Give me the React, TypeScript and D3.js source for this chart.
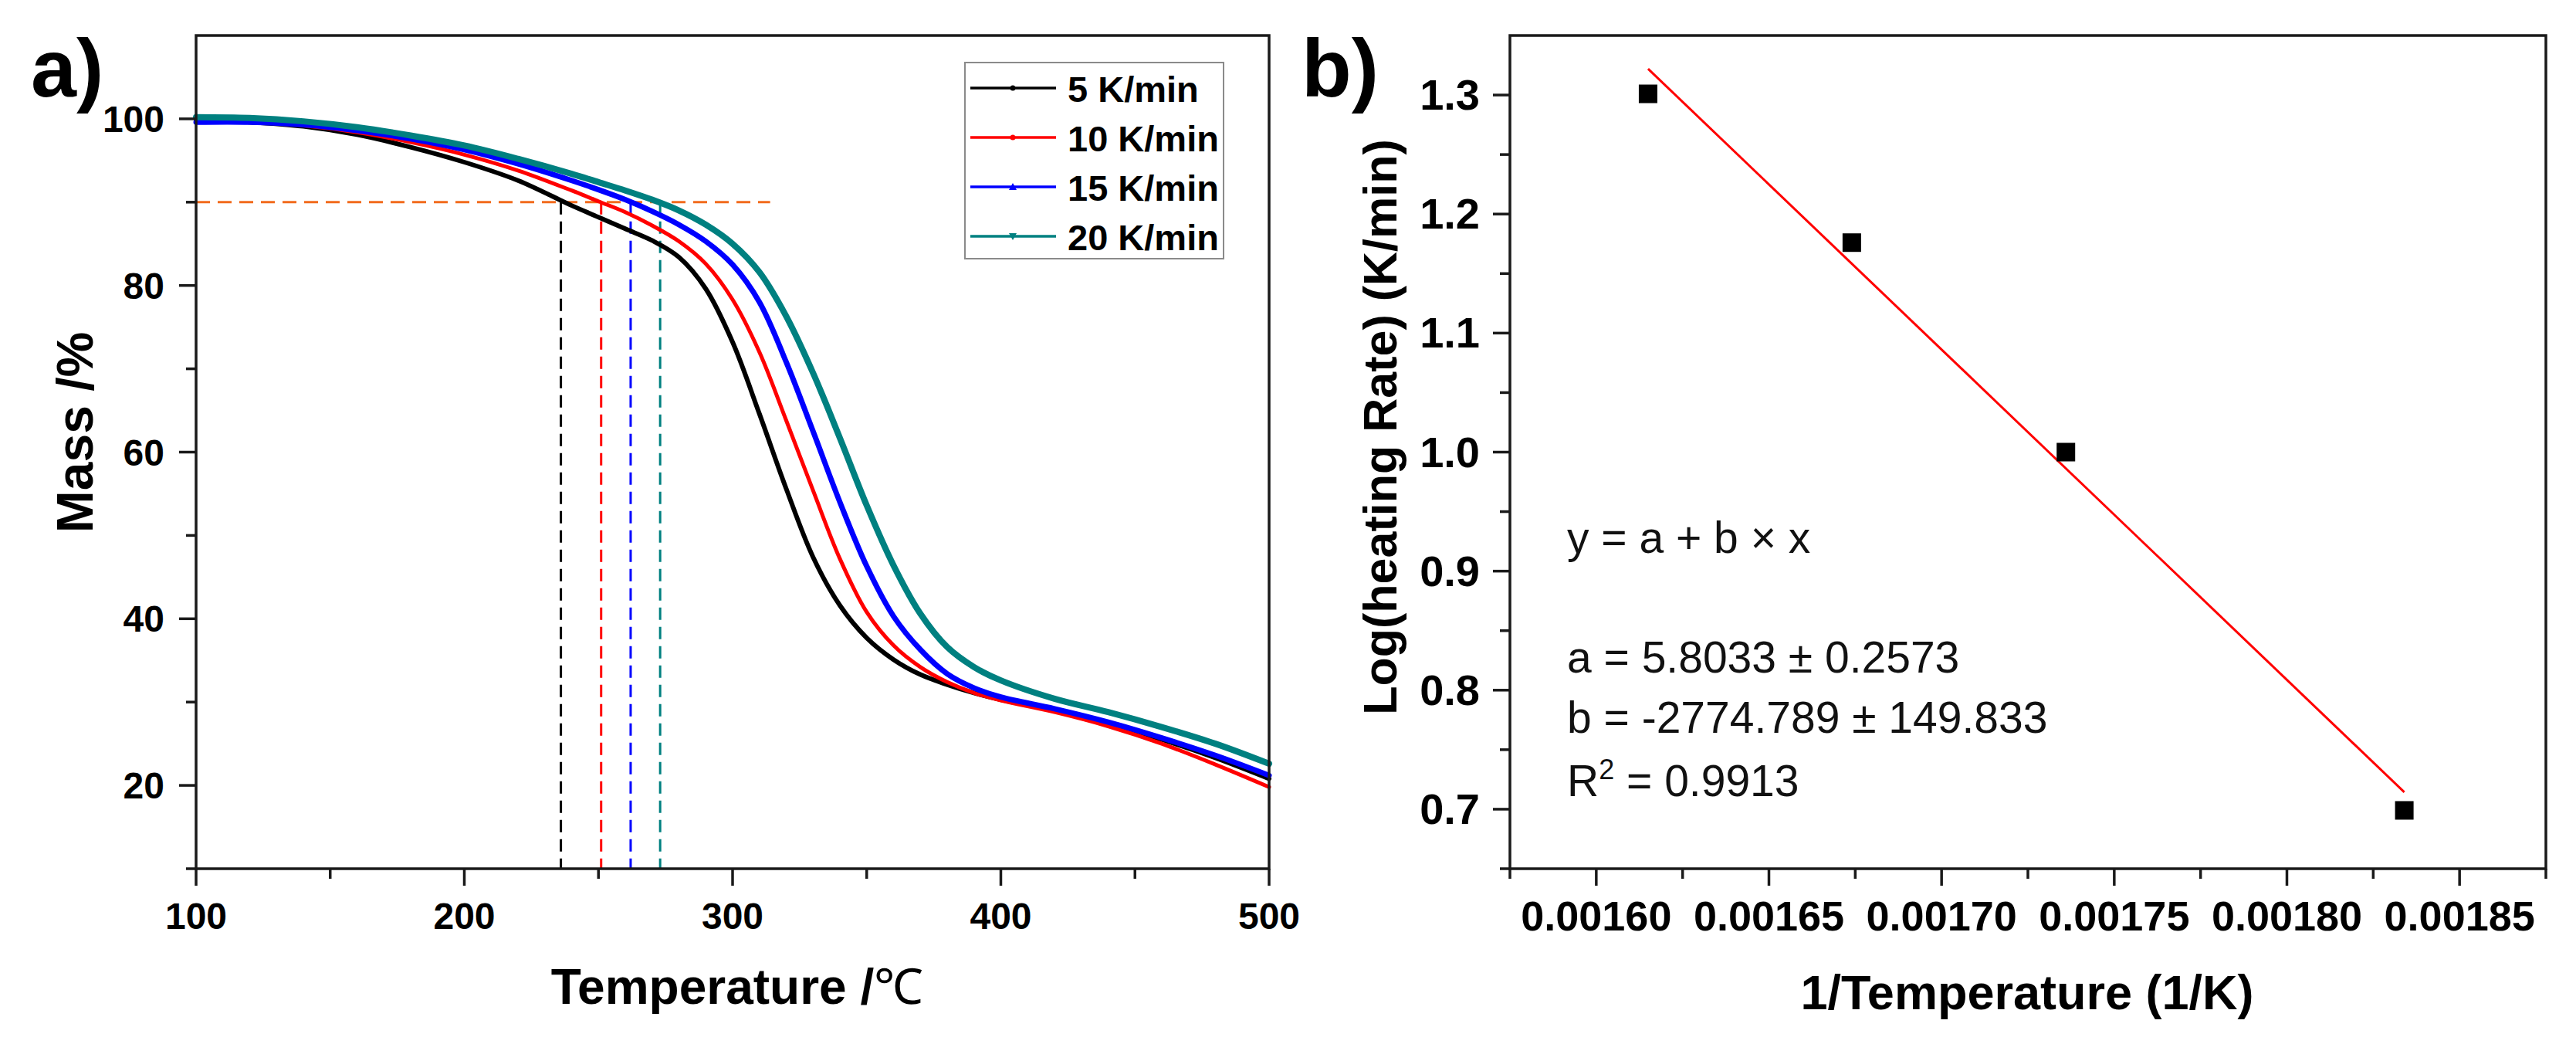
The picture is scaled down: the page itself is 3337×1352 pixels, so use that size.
import React, { useEffect } from "react";
import * as d3 from "d3";

// ---------- Panel a data: TGA curves (Temperature °C, Mass %) ----------
const temps = [100, 120, 140, 160, 180, 200, 220, 240, 250, 260, 270, 280, 290, 300, 310, 320, 330, 340, 350, 360, 370, 380, 390, 400, 420, 440, 460, 480, 500];
const mass5 = [99.8, 99.6, 99.1, 98.1, 96.6, 94.8, 92.6, 89.6, 88.2, 86.8, 85.4, 83.4, 79.6, 73.2, 64.6, 55.6, 47.4, 41.6, 37.7, 35.1, 33.3, 32.1, 31.1, 30.3, 29.0, 27.4, 25.5, 23.3, 20.8];
const mass10 = [99.7, 99.6, 99.2, 98.4, 97.2, 95.7, 93.8, 91.4, 90.1, 88.8, 87.2, 85.3, 82.6, 78.3, 72.0, 63.8, 55.4, 47.2, 40.8, 36.8, 34.2, 32.4, 31.1, 30.2, 28.8, 27.1, 25.0, 22.5, 19.8];
const mass15 = [99.6, 99.6, 99.3, 98.6, 97.6, 96.3, 94.6, 92.6, 91.5, 90.3, 88.9, 87.3, 85.3, 82.5, 78.0, 70.8, 62.5, 54.0, 46.3, 40.3, 36.3, 33.4, 31.7, 30.6, 29.2, 27.6, 25.7, 23.6, 21.2];
const mass20 = [100.2, 100.1, 99.7, 99.0, 98.0, 96.8, 95.2, 93.4, 92.4, 91.4, 90.3, 89.0, 87.3, 85.0, 81.6, 76.3, 69.5, 61.7, 53.6, 46.4, 40.6, 36.6, 34.2, 32.6, 30.4, 28.8, 27.0, 25.0, 22.6];

const seriesLabels = ["5 K/min", "10 K/min", "15 K/min", "20 K/min"];
const seriesColors = ["#000000", "#ff0000", "#0000ff", "#008080"];
const seriesWidths = [6, 5, 7, 8];
const onsetTemps = [236, 251, 262, 273]; // T at 90 % mass
const onsetMass = 90;
const onsetLineEnd = 314;
const xTicksA = [100, 200, 300, 400, 500];
const yTicksA = [20, 40, 60, 80, 100];

// ---------- Panel b data ----------
const invT = [0.001615, 0.001674, 0.001736, 0.001834];
const logRate = [1.301, 1.176, 1.0, 0.699];
const fitA = 5.8033;
const fitB = -2774.789;
const xTicksB = [0.0016, 0.00165, 0.0017, 0.00175, 0.0018, 0.00185];
const yTicksB = [0.7, 0.8, 0.9, 1.0, 1.1, 1.2, 1.3];

const FONT = "'Liberation Sans', Arial, Helvetica, sans-serif";

export default function App() {
  useEffect(() => {
    document.body.style.margin = "0";
  }, []);

  const W = 3337, H = 1352;
  // Panel a scales
  const xA = d3.scaleLinear().domain([100, 500]).range([254, 1644]);
  const yA = d3.scaleLinear().domain([10, 110]).range([1125, 46]);
  // Panel b scales
  const xB = d3.scaleLinear().domain([0.001575, 0.001875]).range([1956, 3298]);
  const yB = d3.scaleLinear().domain([0.65, 1.35]).range([1125, 46]);

  const seriesM = [mass5, mass10, mass15, mass20];
  const line = d3
    .line<[number, number]>()
    .x((d) => xA(d[0]))
    .y((d) => yA(d[1]))
    .curve(d3.curveCatmullRom.alpha(0.5));

  const axisStroke = "#1a1a1a";
  const sw = 3.5;

  const minorA_x = d3.range(150, 500, 100);
  const minorA_y = [10, 30, 50, 70, 90];
  const minorB_x = [0.001575, 0.001625, 0.001675, 0.001725, 0.001775, 0.001825, 0.001875];
  const minorB_y = [0.65, 0.75, 0.85, 0.95, 1.05, 1.15, 1.25];

  const fitX0 = invT[0];
  const fitX1 = invT[invT.length - 1];

  return (
    <svg width={W} height={H} style={{ position: "absolute", left: 0, top: 0, background: "#fff" }} fontFamily={FONT}>
      <rect x={0} y={0} width={W} height={H} fill="#fff" />
      {/* ================= Panel a ================= */}
      <text x={40} y={125} fontSize={106} fontWeight="bold">a)</text>

      {/* onset dashed lines */}
      <line x1={xA(100)} x2={xA(onsetLineEnd)} y1={yA(onsetMass)} y2={yA(onsetMass)} stroke="#f26b1d" strokeWidth={3} strokeDasharray="18 10" />
      {onsetTemps.map((t, i) => (
        <line key={"v" + i} x1={xA(t)} x2={xA(t)} y1={yA(onsetMass)} y2={yA(10)} stroke={seriesColors[i]} strokeWidth={3} strokeDasharray="16 9" />
      ))}

      {/* curves */}
      {seriesM.map((ms, i) => (
        <path
          key={"c" + i}
          d={line(temps.map((t, j) => [t, ms[j]] as [number, number])) || ""}
          fill="none"
          stroke={seriesColors[i]}
          strokeWidth={seriesWidths[i]}
          strokeLinejoin="round"
          strokeLinecap="round"
        />
      ))}

      {/* frame */}
      <rect x={xA(100)} y={yA(110)} width={xA(500) - xA(100)} height={yA(10) - yA(110)} fill="none" stroke={axisStroke} strokeWidth={sw} />
      {/* x ticks */}
      {xTicksA.map((t) => (
        <g key={"xa" + t}>
          <line x1={xA(t)} x2={xA(t)} y1={yA(10)} y2={yA(10) + 22} stroke={axisStroke} strokeWidth={sw} />
          <text x={xA(t)} y={1203} fontSize={48} fontWeight="bold" textAnchor="middle">{t}</text>
        </g>
      ))}
      {minorA_x.map((t) => (
        <line key={"mxa" + t} x1={xA(t)} x2={xA(t)} y1={yA(10)} y2={yA(10) + 13} stroke={axisStroke} strokeWidth={sw} />
      ))}
      {/* y ticks */}
      {yTicksA.map((t) => (
        <g key={"ya" + t}>
          <line x1={xA(100) - 22} x2={xA(100)} y1={yA(t)} y2={yA(t)} stroke={axisStroke} strokeWidth={sw} />
          <text x={213} y={yA(t) + 17} fontSize={48} fontWeight="bold" textAnchor="end">{t}</text>
        </g>
      ))}
      {minorA_y.map((t) => (
        <line key={"mya" + t} x1={xA(100) - 13} x2={xA(100)} y1={yA(t)} y2={yA(t)} stroke={axisStroke} strokeWidth={sw} />
      ))}
      {/* axis titles */}
      <text x={955} y={1300} fontSize={64} fontWeight="bold" textAnchor="middle">
        Temperature /<tspan fontWeight="normal">℃</tspan>
      </text>
      <text transform={`translate(120, ${560}) rotate(-90)`} fontSize={66} fontWeight="bold" textAnchor="middle">Mass /%</text>

      {/* legend */}
      <rect x={1250} y={81} width={335} height={254} fill="#fff" stroke="#8a8a8a" strokeWidth={2} />
      {seriesLabels.map((lab, i) => {
        const ly = 114 + i * 64;
        const mx = 1312;
        return (
          <g key={"lg" + i}>
            <line x1={1257} x2={1368} y1={ly} y2={ly} stroke={seriesColors[i]} strokeWidth={3.5} />
            {i < 2 && <circle cx={mx} cy={ly} r={3.5} fill={seriesColors[i]} />}
            {i === 2 && <path d={`M${mx - 5},${ly + 4} L${mx + 5},${ly + 4} L${mx},${ly - 5} Z`} fill={seriesColors[i]} />}
            {i === 3 && <path d={`M${mx - 5},${ly - 4} L${mx + 5},${ly - 4} L${mx},${ly + 5} Z`} fill={seriesColors[i]} />}
            <text x={1383} y={ly + 18} fontSize={47} fontWeight="bold">{lab}</text>
          </g>
        );
      })}

      {/* ================= Panel b ================= */}
      <text x={1686} y={125} fontSize={106} fontWeight="bold">b)</text>

      {/* fit line */}
      <line x1={xB(fitX0)} y1={yB(fitA + fitB * fitX0)} x2={xB(fitX1)} y2={yB(fitA + fitB * fitX1)} stroke="#ff0000" strokeWidth={3} />
      {/* points */}
      {invT.map((x, i) => (
        <rect key={"p" + i} x={xB(x) - 12} y={yB(logRate[i]) - 12} width={24} height={24} fill="#000" />
      ))}

      {/* frame */}
      <rect x={xB(0.001575)} y={yB(1.35)} width={xB(0.001875) - xB(0.001575)} height={yB(0.65) - yB(1.35)} fill="none" stroke={axisStroke} strokeWidth={sw} />
      {xTicksB.map((t) => (
        <g key={"xb" + t}>
          <line x1={xB(t)} x2={xB(t)} y1={yB(0.65)} y2={yB(0.65) + 22} stroke={axisStroke} strokeWidth={sw} />
          <text x={xB(t)} y={1205} fontSize={54} fontWeight="bold" textAnchor="middle">{d3.format(".5f")(t)}</text>
        </g>
      ))}
      {minorB_x.map((t) => (
        <line key={"mxb" + t} x1={xB(t)} x2={xB(t)} y1={yB(0.65)} y2={yB(0.65) + 13} stroke={axisStroke} strokeWidth={sw} />
      ))}
      {yTicksB.map((t) => (
        <g key={"yb" + t}>
          <line x1={xB(0.001575) - 22} x2={xB(0.001575)} y1={yB(t)} y2={yB(t)} stroke={axisStroke} strokeWidth={sw} />
          <text x={1917} y={yB(t) + 19} fontSize={56} fontWeight="bold" textAnchor="end">{d3.format(".1f")(t)}</text>
        </g>
      ))}
      {minorB_y.map((t) => (
        <line key={"myb" + t} x1={xB(0.001575) - 13} x2={xB(0.001575)} y1={yB(t)} y2={yB(t)} stroke={axisStroke} strokeWidth={sw} />
      ))}
      <text x={2626} y={1307} fontSize={63} fontWeight="bold" textAnchor="middle">1/Temperature (1/K)</text>
      <text transform={`translate(1809, 553) rotate(-90)`} fontSize={61} fontWeight="bold" textAnchor="middle">Log(heating Rate) (K/min)</text>

      {/* fit annotation */}
      <g fontSize={57} fill="#111">
        <text x={2030} y={716}>y = a + b × x</text>
        <text x={2030} y={871}>a = 5.8033 ± 0.2573</text>
        <text x={2030} y={949}>b = -2774.789 ± 149.833</text>
        <text x={2030} y={1031}>
          R<tspan dy={-22} fontSize={36}>2</tspan>
          <tspan dy={22}> = 0.9913</tspan>
        </text>
      </g>
    </svg>
  );
}
